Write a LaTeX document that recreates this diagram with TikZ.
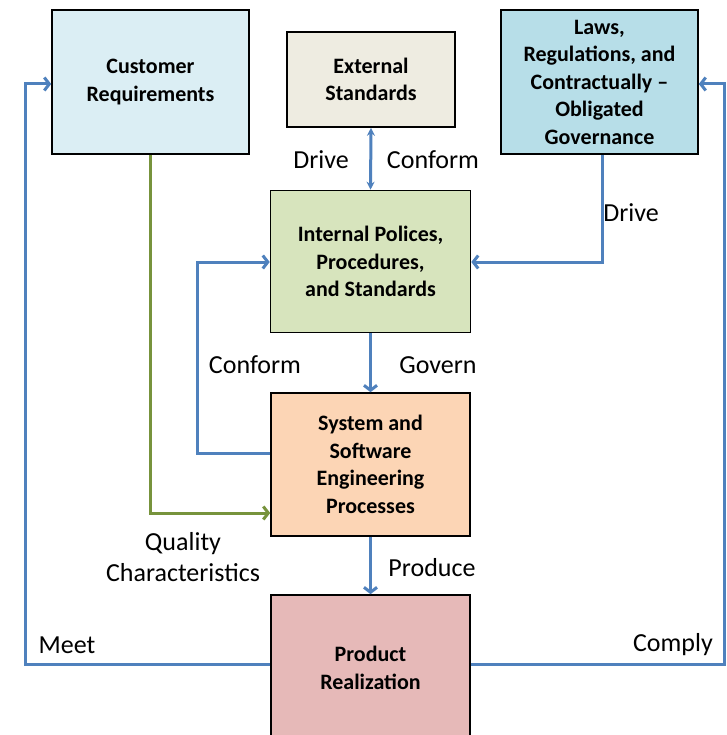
\documentclass[tikz,border=0pt]{standalone}
\usepackage{fontspec}
\setmainfont{Carlito}
\usetikzlibrary{arrows.meta}
\definecolor{custblue}{HTML}{DBEEF4}
\definecolor{extbeige}{HTML}{EEECE1}
\definecolor{lawblue}{HTML}{B7DEE8}
\definecolor{intgreen}{HTML}{D7E4BD}
\definecolor{syspeach}{HTML}{FCD5B5}
\definecolor{prodpink}{HTML}{E6B9B8}
\definecolor{arrowblue}{HTML}{4F81BD}
\definecolor{arrowgreen}{HTML}{77933C}
\begin{document}
\begin{tikzpicture}[x=1pt,y=-1pt,
  box/.style={draw=black, line width=1.6pt, align=center, inner sep=0pt,
    font=\bfseries\fontsize{22}{27.5}\selectfont},
  lbl/.style={font=\fontsize{26}{31}\selectfont, align=center, inner sep=0pt},
  barrow/.style={draw=arrowblue, line width=3pt, -{Straight Barb[length=5pt,width=13pt]}},
  garrow/.style={draw=arrowgreen, line width=3pt, -{Straight Barb[length=5pt,width=13pt]}},
]
\useasboundingbox (0,0) rectangle (726,735);
\fill[white] (0,0) rectangle (726,735);
\clip (0,0) rectangle (726,735);

% boxes
\node[box, fill=custblue, minimum width=197pt, minimum height=144pt] (cust) at (150.5,82) {Customer\\Requirements};
\node[box, fill=extbeige, minimum width=168pt, minimum height=95pt] (ext) at (371,79.5) {External\\Standards};
\node[box, fill=lawblue, minimum width=197pt, minimum height=144pt] (laws) at (599.5,82) {Laws,\\Regulations, and\\Contractually --\\Obligated\\Governance};
\node[box, fill=intgreen, minimum width=200pt, minimum height=142pt] (int) at (370.5,261.5) {Internal Polices,\\Procedures,\\and Standards};
\node[box, fill=syspeach, minimum width=199pt, minimum height=143pt] (sys) at (370.5,464.5) {System and\\Software\\Engineering\\Processes};
\node[box, fill=prodpink, minimum width=199pt, minimum height=146pt] (prod) at (370.5,668) {Product\\Realization};

% corner coordinates
\coordinate (lawturn) at (602,262);
\coordinate (conf1) at (197,453);
\coordinate (conf2) at (197,262);
\coordinate (green1) at (150,513);
\coordinate (meet1) at (25,664);
\coordinate (meet2) at (25,84);
\coordinate (comp1) at (724,664);
\coordinate (comp2) at (724,84);

% connectors
\draw[draw=arrowblue, line width=3pt, {Stealth[length=8pt,width=8pt]}-{Stealth[length=8pt,width=8pt]}] (ext.south) -- (int.north);
\draw[barrow] (laws.south -| lawturn) -- (lawturn) -- (int.east |- lawturn);
\draw[barrow] (int.south) -- (sys.north);
\draw[barrow] (sys.west |- conf1) -- (conf1) -- (conf2) -- (int.west |- conf2);
\draw[garrow] (cust.south -| green1) -- (green1) -- (sys.west |- green1);
\draw[barrow] (sys.south) -- (prod.north);
\draw[barrow] (prod.west |- meet1) -- (meet1) -- (meet2) -- (cust.west |- meet2);
\draw[barrow] (prod.east |- comp1) -- (comp1) -- (comp2) -- (laws.east |- comp2);

% labels
\node[lbl] (ldrive1) at (321,160) {Drive};
\node[lbl] (lconf1) at (433,160) {Conform};
\node[lbl] (ldrive2) at (631,213) {Drive};
\node[lbl] (lgov) at (438,365) {Govern};
\node[lbl] (lconf2) at (255,365) {Conform};
\node[lbl] (lqual) at (183,557) {Quality\\Characteristics};
\node[lbl] (lprod) at (432,568) {Produce};
\node[lbl] (lmeet) at (67,645) {Meet};
\node[lbl] (lcomp) at (673,645) {Comply};
\end{tikzpicture}
\end{document}
